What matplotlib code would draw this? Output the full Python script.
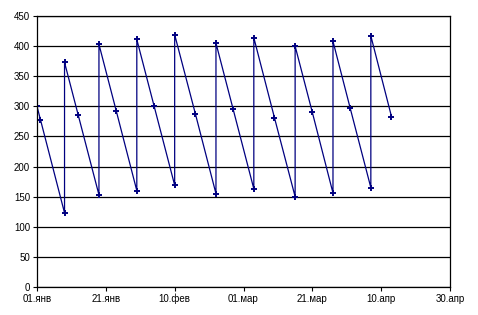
import numpy as np
import matplotlib
matplotlib.use("Agg")
import matplotlib.pyplot as plt
from datetime import datetime

plt.rcParams['font.family'] = ['Liberation Sans', 'DejaVu Sans']

# sawtooth series: the value jumps up on the same day it bottoms out
dates = ["2008-01-01", "2008-01-02", "2008-01-09", "2008-01-09", "2008-01-13",
         "2008-01-19", "2008-01-19", "2008-01-24", "2008-01-30", "2008-01-30",
         "2008-02-04", "2008-02-10", "2008-02-10", "2008-02-16", "2008-02-22",
         "2008-02-22", "2008-02-27", "2008-03-04", "2008-03-04", "2008-03-10",
         "2008-03-16", "2008-03-16", "2008-03-21", "2008-03-27", "2008-03-27",
         "2008-04-01", "2008-04-07", "2008-04-07", "2008-04-13"]
values = [300, 278, 123, 373, 285,
          153, 403, 293, 160, 411,
          301, 169, 419, 288, 155,
          405, 295, 163, 414, 281,
          150, 400, 290, 156, 408,
          297, 165, 417, 283]

tick_dates = ["2008-01-01", "2008-01-21", "2008-02-10", "2008-03-01",
              "2008-03-21", "2008-04-10", "2008-04-30"]
tick_labels = ["01.янв", "21.янв", "10.фев", "01.мар", "21.мар", "10.апр", "30.апр"]

x = [datetime.strptime(d, "%Y-%m-%d") for d in dates]
xt = [datetime.strptime(d, "%Y-%m-%d") for d in tick_dates]

fig = plt.figure(figsize=(4.78, 3.15), dpi=100)
ax = fig.add_axes([37/478, 28/315, 413/478, 271/315])

ax.plot(x, values, color="#000080", lw=0.9, marker="+", ms=4.5, mew=1.4)

ax.set_xlim(xt[0], xt[-1])
ax.set_ylim(0, 450)
ax.set_yticks(np.arange(0, 451, 50))
ax.set_xticks(xt)
ax.set_xticklabels(tick_labels)

ax.yaxis.grid(True, color="black", lw=0.9)
ax.set_axisbelow(True)
for s in ax.spines.values():
    s.set_color("black")
    s.set_linewidth(0.9)

ax.tick_params(axis="both", labelsize=7, length=3, width=0.8, pad=2)

fig.savefig("out.png", dpi=100)
